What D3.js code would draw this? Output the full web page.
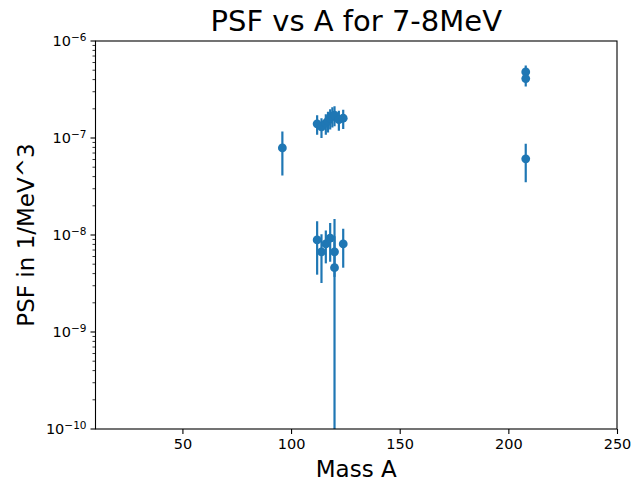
<!DOCTYPE html>
<html>
<head>
<meta charset="utf-8">
<script src="https://cdn.jsdelivr.net/npm/d3@7"></script>
<style>
  body { margin: 0; background: #fff; }
  text { font-family: "DejaVu Sans", sans-serif; fill: #000; }
</style>
</head>
<body>
<svg id="chart" width="631" height="485"></svg>
<script>
// Mass number, PSF value and (symmetric) error for each measurement
var massA = [96, 112, 114, 116, 117, 118, 119, 120, 122, 124,
             112, 114, 116, 118, 120, 120, 124,
             208, 208, 208];
var psf = [7.9e-8, 1.4e-7, 1.3e-7, 1.42e-7, 1.5e-7, 1.6e-7, 1.68e-7, 1.72e-7, 1.55e-7, 1.6e-7,
           8.9e-9, 6.7e-9, 8.1e-9, 9.3e-9, 6.7e-9, 4.6e-9, 8.1e-9,
           4.8e-7, 4.1e-7, 6.1e-8];
var psfErr = [3.8e-8, 3.2e-8, 3.0e-8, 3.4e-8, 3.6e-8, 3.8e-8, 4.0e-8, 4.0e-8, 3.6e-8, 3.6e-8,
              5.0e-9, 3.5e-9, 3.0e-9, 4.0e-9, 3.0e-9, 1.0e-8, 3.5e-9,
              8.0e-8, 7.0e-8, 2.6e-8];
var xTicks = [50, 100, 150, 200, 250];
var yTicks = [-10, -9, -8, -7, -6];

var data = massA.map(function(a, i) {
  return {a: a, v: psf[i], e: psfErr[i]};
});

var margin = {top: 41, left: 95.5, right: 14, bottom: 56};
var width = 631 - margin.left - margin.right;
var height = 485 - margin.top - margin.bottom;
var blue = "#1f77b4";

var svg = d3.select("#chart");

var xScale = d3.scaleLinear().domain([10, 250]).range([0, width]);
var yScale = d3.scaleLog().domain([1e-10, 1e-6]).range([height, 0]);

var chart = svg.append("g")
    .attr("transform", `translate(${margin.left}, ${margin.top})`);

// error bars, clipped to the axes like matplotlib does
chart.append("clipPath").attr("id", "clip")
    .append("rect").attr("width", width).attr("height", height);

var marks = chart.append("g").attr("clip-path", "url(#clip)");

marks.selectAll("line.err")
    .data(data)
    .enter().append("line")
        .attr("class", "err")
        .attr("x1", function(d) { return xScale(d.a); })
        .attr("x2", function(d) { return xScale(d.a); })
        .attr("y1", function(d) { return yScale(d.v + d.e); })
        .attr("y2", function(d) {
            return d.v - d.e > 0 ? yScale(d.v - d.e) : height + 5; })
        .attr("stroke", blue)
        .attr("stroke-width", 2.2);

marks.selectAll("circle")
    .data(data)
    .enter().append("circle")
        .attr("cx", function(d) { return xScale(d.a); })
        .attr("cy", function(d) { return yScale(d.v); })
        .attr("r", 4.4)
        .attr("fill", blue);

// x axis
var xAxis = d3.axisBottom(xScale)
    .tickValues(xTicks)
    .tickSize(5)
    .tickPadding(5);
var gx = chart.append("g")
    .attr("transform", `translate(0, ${height})`)
    .call(xAxis);
gx.select(".domain").remove();
gx.selectAll("line").attr("stroke", "#000").attr("stroke-width", 1.1);
gx.selectAll("text").style("font-size", "14.5px").attr("fill", "#000");

// y axis, log with superscript labels
var minor = [];
yTicks.slice(0, -1).forEach(function(p) {
  for (var k = 2; k <= 9; k++) minor.push(k * Math.pow(10, p));
});
chart.append("g").selectAll("line")
    .data(minor)
    .enter().append("line")
        .attr("x1", -3).attr("x2", 0)
        .attr("y1", function(d) { return yScale(d); })
        .attr("y2", function(d) { return yScale(d); })
        .attr("stroke", "#000")
        .attr("stroke-width", 0.8);

var gy = chart.append("g");
var yt = gy.selectAll("g.tick")
    .data(yTicks)
    .enter().append("g")
        .attr("class", "tick")
        .attr("transform", function(p) {
            return `translate(0, ${yScale(Math.pow(10, p))})`; });
yt.append("line")
    .attr("x1", -5).attr("x2", 0)
    .attr("stroke", "#000").attr("stroke-width", 1.1);
var yl = yt.append("text")
    .attr("x", -9)
    .attr("dy", "0.35em")
    .style("text-anchor", "end")
    .style("font-size", "14.5px");
yl.append("tspan").text("10");
yl.append("tspan")
    .attr("dy", "-0.45em")
    .style("font-size", "10.5px")
    .text(function(p) { return "\u2212" + (-p); });

// frame
chart.append("rect")
    .attr("width", width)
    .attr("height", height)
    .attr("fill", "none")
    .attr("stroke", "#000")
    .attr("stroke-width", 1.1);

// titles
svg.append("text")
    .attr("x", margin.left + width / 2)
    .attr("y", 31)
    .style("text-anchor", "middle")
    .style("font-size", "29px")
    .text("PSF vs A for 7-8MeV");

svg.append("text")
    .attr("x", margin.left + width / 2)
    .attr("y", 477)
    .style("text-anchor", "middle")
    .style("font-size", "23px")
    .text("Mass A");

svg.append("text")
    .attr("transform", `translate(34, ${margin.top + height / 2}) rotate(-90)`)
    .style("text-anchor", "middle")
    .style("font-size", "23px")
    .text("PSF in 1/MeV^3");
</script>
</body>
</html>
